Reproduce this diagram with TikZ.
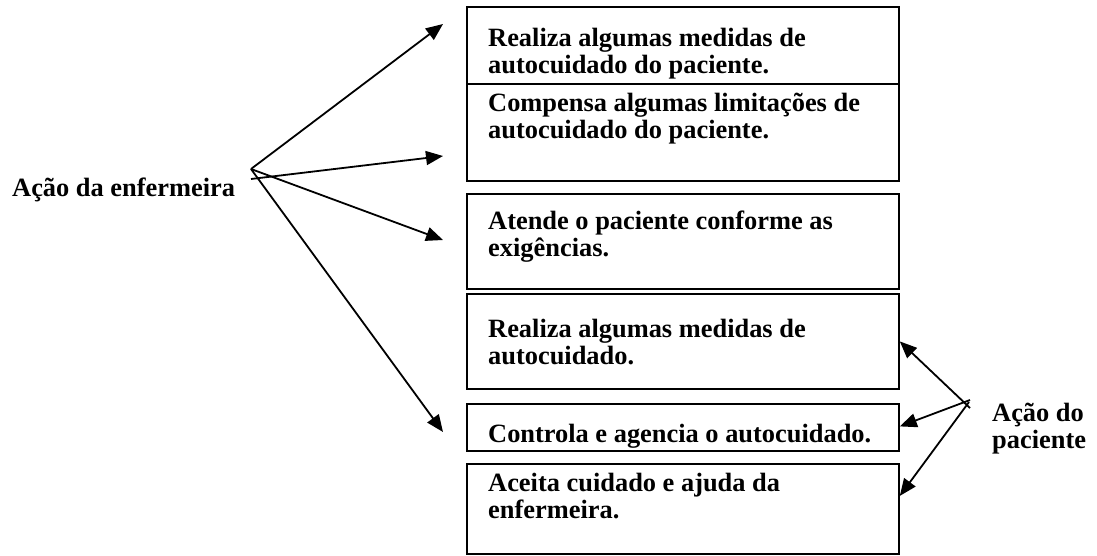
\documentclass[tikz,border=0pt]{standalone}
\usepackage{fontspec}
\setmainfont{Liberation Serif}
\usepackage{tikz}
\usetikzlibrary{calc}
\usetikzlibrary{arrows.meta, positioning}

\begin{document}
\begin{tikzpicture}[x=1pt, y=-1pt, >={Triangle[length=17pt, width=14pt]},
			box/.style={draw, rectangle, line width=1.8pt, minimum width=432pt, anchor=north west, inner sep=0pt},
			txt/.style={font=\bfseries\fontsize{26.4}{26.5}\selectfont, align=left, inner sep=0pt, anchor=base west},
			seta/.style={->, line width=1.8pt}]
			
			\useasboundingbox (0,0) rectangle (1097,555);
			
			% Drawing the boxes
			\node[box, minimum height=77pt] (box1) at (466,6) {};
			\node[box, minimum height=97pt] (box2) at (466,83) {};
			\node[box, minimum height=95pt] (box3) at (466,193) {};
			\node[box, minimum height=95pt] (box4) at (466,293) {};
			\node[box, minimum height=47pt] (box5) at (466,403) {};
			\node[box, minimum height=90pt] (box6) at (466,463) {};
			
			% Texts of the boxes (placed by the baseline of the last line)
			\node[txt] (txt1) at (488,73) {Realiza algumas medidas de\\autocuidado do paciente.};
			\node[txt] (txt2) at (488,138) {Compensa algumas limitações de\\autocuidado do paciente.};
			\node[txt] (txt3) at (488,256) {Atende o paciente conforme as\\exigências.};
			\node[txt] (txt4) at (488,364) {Realiza algumas medidas de\\autocuidado.};
			\node[txt] (txt5) at (488,442) {Controla e agencia o autocuidado.};
			\node[txt] (txt6) at (488,518) {Aceita cuidado e ajuda da\\enfermeira.};
			
			% Side labels
			\node[txt] (enf) at (12,196) {Ação da enfermeira};
			\node[txt] (pac) at (992,448) {Ação do\\paciente};
			
			% Points where the arrows start and end
			\coordinate (enfA) at (251,169);
			\coordinate (enfB) at (251,179);
			\coordinate (tip1) at (443,24);
			\coordinate (tip2) at (443,156);
			\coordinate (tip3) at (443,240);
			\coordinate (tip4) at (443,432);
			\coordinate (pacA) at (970,408);
			\coordinate (pacB) at (970,400);
			\coordinate (pacC) at (969,402);
			
			% Arrows of the nurse
			\draw[seta] (enfA) -- (tip1);
			\draw[seta] (enfB) -- (tip2);
			\draw[seta] (enfA) -- (tip3);
			\draw[seta] (enfA) -- (tip4);
			
			% Arrows of the patient
			\draw[seta] (pacA) -- (box4.east);
			\draw[seta] (pacB) -- ([yshift=1pt]box5.east);
			\draw[seta] (pacC) -- ([yshift=13pt]box6.east);
		\end{tikzpicture}
\end{document}
